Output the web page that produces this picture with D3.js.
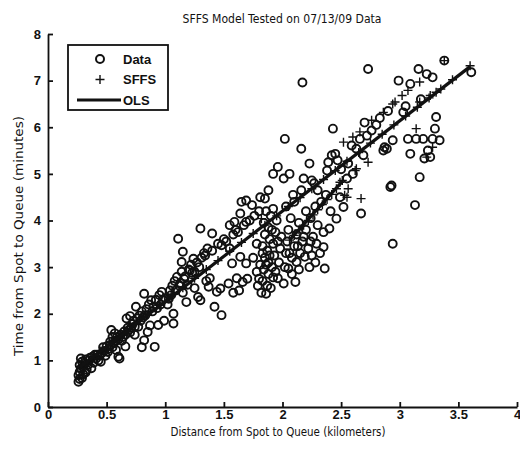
<!DOCTYPE html>
<html>
<head>
<meta charset="utf-8">
<script src="https://cdn.jsdelivr.net/npm/d3@7"></script>
<style>
  body { margin: 0; background: #fff; }
  svg { display: block; }
  .axis text { font-family: "Liberation Sans", Arial, sans-serif; font-size: 13px; font-weight: bold; fill: #111; }
  .axis line, .axis path { stroke: #111; stroke-width: 1.8; }
  .lbl { font-family: "Liberation Sans Narrow", "DejaVu Sans Condensed", sans-serif; font-size: 13px; fill: #111; }
</style>
</head>
<body>
<div id="chart"></div>
<script>
// measured data (distance km, time min)
var dataPts = [
  [0.26,0.54],[0.27,0.6],[0.26,0.68],[0.27,0.75],[0.28,0.82],[0.27,0.9],[0.29,0.97],[0.28,1.04],[0.3,0.7],[0.3,0.86],
  [0.31,0.93],[0.32,1.02],[0.33,0.8],[0.34,0.9],[0.35,1.0],[0.37,0.83],[0.36,1.06],[0.39,0.95],[0.41,1.04],[0.43,1.0],
  [0.45,0.97],[0.44,1.1],[0.46,1.16],[0.48,1.2],[0.42,1.12],[0.29,0.62],[0.32,0.74],
  [0.38,1.08],[0.4,1.12],[0.47,1.28],[0.49,1.1],[0.51,1.18],[0.53,1.33],[0.55,1.28],[0.58,1.42],[0.59,1.5],[0.63,1.42],
  [0.66,1.55],[0.69,1.65],[0.71,1.7],[0.74,1.72],[0.79,1.85],[0.81,1.92],[0.83,1.97],[0.89,2.05],[0.93,2.12],[0.96,2.2],
  [0.5,1.3],[0.52,1.25],[0.53,1.4],[0.54,1.65],[0.55,1.5],[0.56,1.36],[0.58,1.22],[0.6,1.08],[0.61,1.04],[0.6,1.45],
  [0.62,1.55],[0.64,1.5],[0.65,1.62],[0.67,1.9],[0.68,1.7],[0.7,1.95],[0.7,1.6],[0.72,1.78],[0.73,1.85],[0.75,2.15],
  [0.76,1.9],[0.77,1.72],[0.78,1.96],[0.8,2.05],[0.8,1.28],[0.82,1.43],[0.82,2.43],[0.84,2.1],[0.85,1.61],[0.86,2.2],
  [0.88,2.29],[0.9,2.15],[0.91,1.29],[0.92,2.3],[0.94,1.76],[0.95,2.4],[0.97,2.47],[0.98,2.3],[1.0,2.33],[0.87,1.75],
  [0.74,1.55],[0.66,1.3],[0.57,1.58],
  [1.02,2.2],[1.04,2.5],[1.05,2.4],[1.07,2.0],[1.07,1.79],[1.06,2.6],[1.08,2.7],[1.1,2.79],[1.11,3.61],[1.12,2.6],
  [1.14,3.11],[1.15,3.33],[1.14,2.9],[1.16,2.75],[1.18,2.25],[1.2,2.95],[1.21,2.93],[1.22,3.05],[1.24,3.18],[1.25,2.9],
  [1.27,3.1],[1.28,2.36],[1.3,2.29],[1.3,3.83],[1.31,3.2],[1.33,3.3],[1.34,3.25],[1.35,2.7],[1.37,2.58],[1.38,2.76],
  [1.36,3.4],[1.4,3.72],[1.4,3.35],[1.42,2.15],[1.44,2.47],[1.45,3.5],[1.47,2.54],[1.48,1.97],[1.48,3.47],[1.5,3.6],
  [1.15,2.45],[1.25,2.55],[1.19,2.62],[0.99,1.85],[1.03,2.32],[1.09,2.5],[1.13,2.66],[1.17,2.8],[1.23,2.88],[1.29,3.0],
  [1.52,3.55],[1.54,2.65],[1.55,3.4],[1.55,3.9],[1.57,3.08],[1.58,3.7],[1.59,3.97],[1.6,3.8],[1.61,2.76],[1.62,3.75],
  [1.64,3.22],[1.64,4.15],[1.65,4.4],[1.66,2.68],[1.67,3.9],[1.69,3.08],[1.69,3.97],[1.69,4.43],[1.72,4.0],[1.74,4.33],
  [1.75,3.2],[1.76,4.1],[1.78,2.9],[1.78,3.5],[1.79,2.6],[1.8,4.2],[1.81,4.5],[1.58,2.45],[1.63,2.5],[1.7,2.75],
  [1.82,2.45],[1.83,2.7],[1.84,2.95],[1.85,3.2],[1.83,3.45],[1.85,3.7],[1.84,3.95],[1.86,2.43],[1.87,2.6],[1.88,2.85],
  [1.88,3.1],[1.87,3.35],[1.89,3.6],[1.88,3.85],[1.9,4.1],[1.9,2.55],[1.92,2.78],[1.91,3.0],[1.93,3.25],[1.92,3.5],
  [1.94,3.75],[1.92,4.25],[1.95,4.0],[1.96,2.76],[1.96,5.15],[1.97,3.1],[1.98,3.4],[1.99,3.65],[1.85,4.47],[1.88,4.65],
  [1.92,5.0],[1.8,2.75],[1.81,3.05],[1.83,3.3],[1.86,3.05],[1.89,3.25],[1.91,3.8],[1.94,2.9],[1.96,3.55],[1.86,4.2],
  [2.01,2.65],[2.02,5.75],[2.01,4.9],[2.02,3.0],[2.03,3.3],[2.04,3.55],[2.05,2.97],[2.05,3.8],[2.06,5.0],[2.07,4.05],
  [2.08,3.2],[2.1,3.45],[2.11,2.68],[2.12,3.11],[2.12,3.7],[2.14,3.95],[2.15,3.3],[2.16,5.54],[2.17,6.96],[2.18,4.9],
  [2.17,3.55],[2.19,3.22],[2.2,4.2],[2.2,3.8],[2.22,3.4],[2.23,3.0],[2.23,5.22],[2.24,4.05],[2.25,3.25],[2.25,4.86],
  [2.26,3.65],[2.28,4.3],[2.29,3.5],[2.3,3.9],[2.32,3.3],[2.33,4.4],[2.35,3.43],[2.36,2.97],[2.35,3.75],[2.37,4.55],
  [2.38,5.07],[2.39,5.25],[2.4,3.83],[2.41,4.2],[2.42,5.4],[2.43,5.97],[2.45,5.43],[2.46,4.04],[2.47,5.29],[2.49,4.5],
  [2.5,5.1],[2.08,2.85],[2.14,2.95],[2.28,3.1],[2.1,4.4],[2.3,4.65],[2.06,3.3],[2.13,3.45],[2.18,3.65],[2.24,3.55],
  [2.03,4.3],[2.09,4.55],[2.16,4.65],[2.27,4.8],
  [2.52,4.29],[2.56,5.22],[2.59,5.61],[2.63,5.54],[2.66,5.75],[2.67,4.15],[2.69,5.4],[2.72,5.82],[2.73,7.25],[2.76,5.93],
  [2.8,6.05],[2.86,5.5],[2.87,5.57],[2.89,5.54],[2.92,4.72],[2.93,4.75],[2.94,5.72],[2.94,3.5],[2.99,7.0],[2.55,4.9],
  [2.6,5.0],[2.7,6.1],[2.83,6.2],[2.9,6.35],
  [3.03,6.32],[3.07,5.75],[3.09,6.93],[3.09,5.43],[3.13,4.33],[3.14,5.75],[3.16,7.25],[3.17,4.93],[3.2,5.75],[3.21,5.33],
  [3.23,7.14],[3.26,5.36],[3.28,7.07],[3.28,5.75],[3.3,5.97],[3.31,6.22],[3.34,5.72],[3.38,7.43],[3.61,7.18],[3.24,5.5],
  [3.18,6.6],[3.05,6.45]
];

// SFFS model predictions
var sffsPts = [
  [0.28,0.86],[0.35,1.0],[0.45,1.2],[0.55,1.4],[0.65,1.6],[0.75,1.8],[0.85,1.98],[0.95,2.18],[1.05,2.37],[1.15,2.56],
  [1.25,2.76],[1.35,2.95],[1.45,3.14],[1.55,3.34],[1.65,3.53],[1.75,3.72],[1.82,4.04],[1.85,3.9],[1.95,4.1],[2.05,4.3],
  [2.15,4.49],[2.25,4.68],[2.35,4.88],[2.45,5.07],
  [2.06,3.58],[2.1,3.68],[2.14,3.8],[2.18,3.9],[2.22,4.0],[2.26,4.12],[2.3,4.23],[2.34,4.34],[2.38,4.45],[2.42,4.56],
  [2.46,4.68],[2.49,4.82],[2.51,4.86],
  [2.52,5.68],[2.6,5.79],[2.66,5.9],[2.76,6.15],[2.86,6.32],[2.94,6.5],[2.96,6.54],[3.02,6.68],[3.07,6.79],[3.17,6.97],
  [3.38,7.43],[3.6,7.32],[3.17,6.54],[3.26,6.68],[3.31,6.75],[3.14,5.97],[3.28,5.57],[3.23,5.36],[2.73,5.25],[2.63,5.11],
  [2.53,4.54],[2.67,4.47],[2.56,4.68],[2.55,4.5],[2.62,5.07],
  [2.55,5.27],[2.65,5.46],[2.75,5.66],[2.85,5.85],[2.95,6.05],[3.05,6.24],[3.15,6.43],[3.25,6.63],[3.35,6.82],[3.45,7.02]
];

// OLS fit: main line and the short second run
var olsLine = [[0.27,0.85],[3.6,7.3]];
var olsLine2 = [[2.06,3.58],[2.51,4.84]];

var xTicks = [0, 0.5, 1, 1.5, 2, 2.5, 3, 3.5, 4];
var yTicks = [0, 1, 2, 3, 4, 5, 6, 7, 8];
var legendNames = ['Data', 'SFFS', 'OLS'];

var width = 520, height = 451;

var svg = d3.select('#chart').append('svg')
    .attr('width', width)
    .attr('height', height);

var x = d3.scaleLinear().domain([0, 4]).range([48, 517]);
var y = d3.scaleLinear().domain([0, 8]).range([407, 34]);

// axes, ticks point inward like matlab
var ax_x = d3.axisBottom(x)
    .tickValues(xTicks)
    .tickFormat(d => String(d))
    .tickSizeInner(-5)
    .tickSizeOuter(0)
    .tickPadding(3);

svg.append('g')
    .attr('class', 'axis')
    .attr('transform', 'translate(0,' + y(0) + ')')
    .call(ax_x);

var ax_y = d3.axisLeft(y)
    .tickValues(yTicks)
    .tickFormat(d => String(d))
    .tickSizeInner(-5)
    .tickSizeOuter(0)
    .tickPadding(7);

svg.append('g')
    .attr('class', 'axis')
    .attr('transform', 'translate(' + x(0) + ',0)')
    .call(ax_y);

// data circles
svg.append('g')
  .selectAll('circle')
  .data(dataPts)
  .enter().append('circle')
    .attr('cx', d => x(d[0]))
    .attr('cy', d => y(d[1]))
    .attr('r', 4)
    .attr('fill', 'none')
    .attr('stroke', '#111')
    .attr('stroke-width', 1.9);

// sffs plus markers
svg.append('g')
  .selectAll('path')
  .data(sffsPts)
  .enter().append('path')
    .attr('transform', d => 'translate(' + x(d[0]) + ',' + y(d[1]) + ')')
    .attr('d', 'M-4.5,0H4.5M0,-4.5V4.5')
    .attr('fill', 'none')
    .attr('stroke', '#111')
    .attr('stroke-width', 1.4);

// ols line
var line = d3.line().x(d => x(d[0])).y(d => y(d[1]));
svg.selectAll('.ols')
  .data([olsLine, olsLine2])
  .enter().append('path')
    .attr('class', 'ols')
    .attr('d', line)
    .attr('fill', 'none')
    .attr('stroke', '#111')
    .attr('stroke-width', 3.2);

// titles
svg.append('text')
    .attr('class', 'lbl')
    .attr('x', 282).attr('y', 23)
    .attr('text-anchor', 'middle')
    .attr('textLength', 199)
    .attr('lengthAdjust', 'spacingAndGlyphs')
    .text('SFFS Model Tested on 07/13/09 Data');

svg.append('text')
    .attr('class', 'lbl')
    .attr('x', 278).attr('y', 436)
    .attr('text-anchor', 'middle')
    .attr('textLength', 215)
    .attr('lengthAdjust', 'spacingAndGlyphs')
    .text('Distance from Spot to Queue (kilometers)');

svg.append('text')
    .attr('class', 'lbl')
    .attr('transform', 'translate(23,236) rotate(-90)')
    .attr('text-anchor', 'middle')
    .attr('textLength', 240)
    .attr('lengthAdjust', 'spacingAndGlyphs')
    .text('Time from Spot to Queue (minutes)');

// legend
var lg = svg.append('g').attr('transform', 'translate(68,45)');
lg.append('rect')
    .attr('width', 100).attr('height', 65)
    .attr('fill', '#fff')
    .attr('stroke', '#111')
    .attr('stroke-width', 1.8);

var rows = lg.selectAll('.row')
  .data(legendNames)
  .enter().append('g')
    .attr('transform', (d, i) => 'translate(0,' + (14 + i * 20.5) + ')');

rows.append('text')
    .attr('x', 55).attr('y', 4.5)
    .style('font', 'bold 13px "Liberation Sans", Arial, sans-serif')
    .attr('fill', '#111')
    .text(d => d);

lg.append('circle')
    .attr('cx', 32).attr('cy', 14).attr('r', 4)
    .attr('fill', 'none').attr('stroke', '#111').attr('stroke-width', 2);
lg.append('path')
    .attr('d', 'M27.5,34.5H36.5M32,30V39')
    .attr('stroke', '#111').attr('stroke-width', 1.4);
lg.append('line')
    .attr('x1', 9).attr('x2', 53).attr('y1', 55).attr('y2', 55)
    .attr('stroke', '#111').attr('stroke-width', 3);
</script>
</body>
</html>
